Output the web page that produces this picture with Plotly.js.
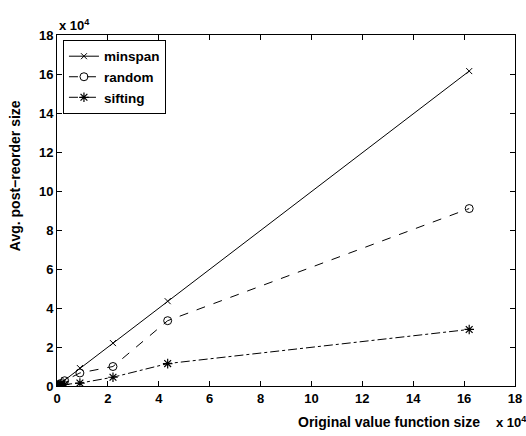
<!DOCTYPE html>
<html>
<head>
<meta charset="utf-8">
<script src="https://cdn.plot.ly/plotly-3.0.1.min.js"></script>
<style>html,body{margin:0;padding:0;background:#fff;}#chart{width:526px;height:436px;}</style>
</head>
<body>
<div id="chart"></div>
<script>
// Values in units of 10^4
const origSize = [0.01, 0.03, 0.08, 0.15, 0.3, 0.9, 2.2, 4.35, 16.2];
const minspan  = [0.01, 0.03, 0.08, 0.15, 0.3, 0.92, 2.2, 4.35, 16.15];
const random   = [0.01, 0.03, 0.07, 0.13, 0.27, 0.67, 1.0, 3.35, 9.1];
const sifting  = [0.005, 0.01, 0.03, 0.05, 0.08, 0.15, 0.45, 1.15, 2.9];
const tickVals = [0, 2, 4, 6, 8, 10, 12, 14, 16, 18];
const tickText = ["0", "2", "4", "6", "8", "10", "12", "14", "16", "18"];

const FONT = "Liberation Sans, Arial, Helvetica, sans-serif";

const traces = [
  {x: origSize, y: minspan, name: "minspan", mode: "lines+markers",
   line: {color: "#000", width: 1, dash: "solid"},
   marker: {symbol: "x-thin-open", size: 6, color: "#000", line: {color: "#000", width: 1}}},
  {x: origSize, y: random, name: "random", mode: "lines+markers",
   line: {color: "#000", width: 1, dash: "dash"},
   marker: {symbol: "circle-open", size: 8, color: "#000", line: {color: "#000", width: 1}}},
  {x: origSize, y: sifting, name: "sifting", mode: "lines+markers",
   line: {color: "#000", width: 1, dash: "dashdot"},
   marker: {symbol: "asterisk-open", size: 8, color: "#000", line: {color: "#000", width: 1.2}}}
];

const axisCommon = {
  range: [0, 18], tickmode: "array", tickvals: tickVals, ticktext: tickText,
  ticks: "inside", ticklen: 5, tickwidth: 1, tickcolor: "#000",
  showline: true, linecolor: "#000", linewidth: 1, mirror: "ticks",
  showgrid: false, zeroline: false,
  tickfont: {family: FONT, size: 13, color: "#000", weight: "bold"}
};

const layout = {
  width: 526, height: 436,
  margin: {l: 57, r: 11, t: 35, b: 50},
  paper_bgcolor: "#fff", plot_bgcolor: "#fff",
  showlegend: true,
  legend: {x: 0.013, y: 0.986, xanchor: "left", yanchor: "top",
           bgcolor: "#fff", bordercolor: "#000", borderwidth: 1,
           font: {family: FONT, size: 13.5, color: "#000", weight: "bold"},
           itemwidth: 30, tracegroupgap: 0},
  xaxis: Object.assign({}, axisCommon),
  yaxis: Object.assign({}, axisCommon),
  annotations: [
    {text: "Original value function size", xref: "paper", yref: "paper",
     x: 0.928, y: -0.075, xanchor: "right", yanchor: "top", showarrow: false,
     font: {family: FONT, size: 14, color: "#000", weight: "bold"}},
    {text: "x 10<sup>4</sup>", xref: "paper", yref: "paper",
     x: 0.955, y: -0.075, xanchor: "left", yanchor: "top", showarrow: false,
     font: {family: FONT, size: 13, color: "#000", weight: "bold"}},
    {text: "x 10<sup>4</sup>", xref: "paper", yref: "paper",
     x: 0.0, y: 1.0, xanchor: "left", yanchor: "bottom", showarrow: false,
     font: {family: FONT, size: 13, color: "#000", weight: "bold"}},
    {text: "Avg. post\u2212reorder size", xref: "paper", yref: "paper",
     x: -0.09, y: 0.6, xanchor: "center", yanchor: "middle", textangle: -90, showarrow: false,
     font: {family: FONT, size: 14, color: "#000", weight: "bold"}}
  ]
};

Plotly.newPlot("chart", traces, layout, {displayModeBar: false, staticPlot: true});
</script>
</body>
</html>
